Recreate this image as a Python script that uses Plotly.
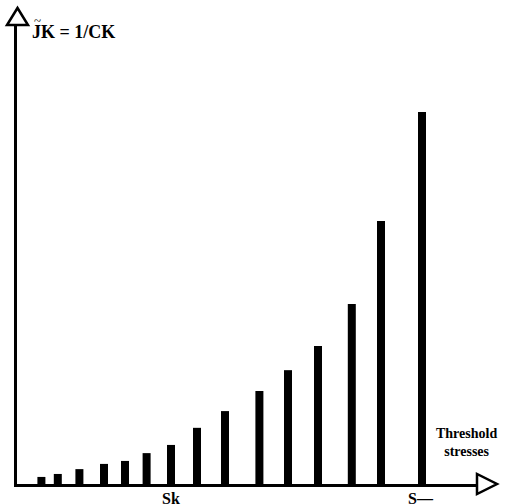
import plotly.graph_objects as go

# Threshold stress positions (arbitrary units) and J~K values (arbitrary units)
stress = [6.1, 10.2, 15.6, 21.75, 27.0, 32.4, 38.5, 45.0, 52.0, 60.6, 67.75, 75.25, 83.7, 91.0, 101.25]
jk = [1.9, 2.7, 4.0, 5.4, 6.2, 8.3, 10.5, 15.1, 19.6, 25.0, 30.6, 37.1, 48.4, 70.7, 100.0]
tick_vals = [38.5, 101.0]
tick_text = ["<b>Sk</b>", "<b>S\u2014</b>"]

W, H = 512, 504
L, R, T, B = 17, 35, 24, 20
pw, ph = W - L - R, H - T - B

def px(x):
    return (x - L) / pw

def py(y):
    return (H - B - y) / ph

fig = go.Figure()
fig.add_trace(go.Bar(x=stress, y=jk, width=2.0, marker=dict(color="black", line=dict(width=0)),
                     showlegend=False, hoverinfo="skip"))

font_family = "Liberation Serif"
fig.update_layout(
    width=W, height=H,
    margin=dict(l=L, r=R, t=T, b=B, pad=0, autoexpand=False),
    paper_bgcolor="white", plot_bgcolor="white",
    xaxis=dict(range=[0, pw / 4], showgrid=False, zeroline=False, showline=True,
               linecolor="black", linewidth=3, showticklabels=False, ticks="",
               automargin=False),
    yaxis=dict(range=[0, ph / 3.72], showgrid=False, zeroline=False, showline=True,
               linecolor="black", linewidth=3, showticklabels=False, ticks="",
               automargin=False),
    font=dict(family=font_family, color="black"),
)

# tick labels on the stress axis
for tv, tt in zip(tick_vals, tick_text):
    fig.add_annotation(xref="x", yref="paper", x=tv, y=py(498.5), xanchor="center", yanchor="middle",
                       text=tt, showarrow=False, borderpad=0,
                       font=dict(family=font_family, size=16, color="black"))

# outlined arrowheads
fig.add_shape(type="path", xref="paper", yref="paper",
              path=f"M {px(7)} {py(25)} L {px(28)} {py(25)} L {px(17.5)} {py(8)} Z",
              line=dict(color="black", width=2.5), fillcolor="white")
fig.add_shape(type="path", xref="paper", yref="paper",
              path=f"M {px(477)} {py(474)} L {px(477)} {py(494)} L {px(497)} {py(484)} Z",
              line=dict(color="black", width=2.5), fillcolor="white")

fig.add_annotation(xref="paper", yref="paper", x=px(30), y=py(32), xanchor="left", yanchor="middle",
                   text="<b>JK = 1/CK</b>", showarrow=False,
                   font=dict(family=font_family, size=18, color="black"))
fig.add_annotation(xref="paper", yref="paper", x=px(37), y=py(21), xanchor="center", yanchor="middle",
                   text="~", showarrow=False, borderpad=0,
                   font=dict(family=font_family, size=13, color="black"))
fig.add_annotation(xref="paper", yref="paper", x=px(466), y=py(442), xanchor="center", yanchor="middle",
                   text="<b>Threshold<br>stresses</b>", showarrow=False,
                   font=dict(family=font_family, size=14, color="black"))

fig.write_html("out.html")
